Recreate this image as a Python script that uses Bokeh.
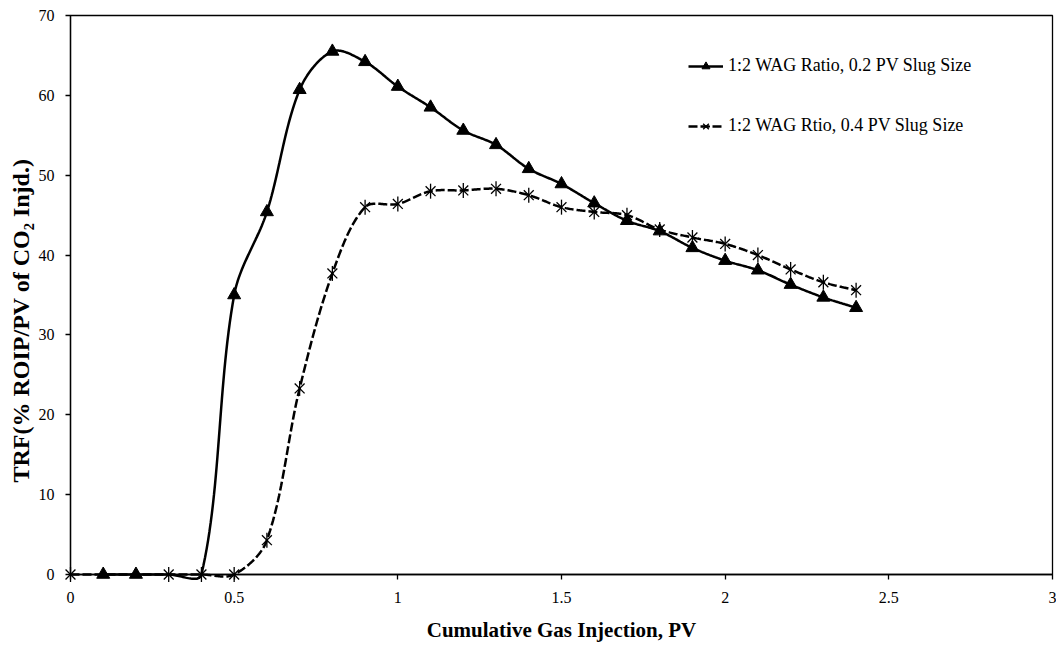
import numpy as np
from bokeh.plotting import figure
from bokeh.models import (Range1d, FixedTicker, CustomJSTickFormatter, Legend,
                          LegendItem, Title)
from bokeh.embed import file_html
from bokeh.resources import INLINE

# ---------------- data ----------------
X_TICKS = [0, 0.5, 1, 1.5, 2, 2.5, 3]
Y_TICKS = [0, 10, 20, 30, 40, 50, 60, 70]

S1_NAME = "1:2 WAG Ratio, 0.2 PV Slug Size"
S1_X = [0.1, 0.2, 0.3, 0.4, 0.5, 0.6, 0.7, 0.8, 0.9, 1.0, 1.1, 1.2,
        1.3, 1.4, 1.5, 1.6, 1.7, 1.8, 1.9, 2.0, 2.1, 2.2, 2.3, 2.4]
S1_Y = [0, 0, 0, 0, 35.0, 45.4, 60.7, 65.5, 64.2, 61.1, 58.5, 55.6,
        53.8, 50.8, 48.9, 46.5, 44.3, 43.0, 40.9, 39.3, 38.1, 36.3, 34.7, 33.4]

S2_NAME = "1:2 WAG Rtio, 0.4 PV Slug Size"
S2_X = [0, 0.3, 0.4, 0.5, 0.6, 0.7, 0.8, 0.9, 1.0, 1.1, 1.2, 1.3,
        1.4, 1.5, 1.6, 1.7, 1.8, 1.9, 2.0, 2.1, 2.2, 2.3, 2.4]
S2_Y = [0, 0, 0, 0, 4.3, 23.3, 37.7, 46.0, 46.4, 48.0, 48.1, 48.3,
        47.5, 46.0, 45.4, 45.0, 43.2, 42.2, 41.4, 40.0, 38.2, 36.6, 35.6]

X_TITLE = "Cumulative Gas Injection, PV"
Y_TITLE = "TRF(% ROIP/PV of CO\u2082 Injd.)"

X_MAX, Y_MAX = 3, 70
FRAME_W, FRAME_H = 982, 559
FONT = "Liberation Serif"


def smooth(xs, ys, n=30):
    """Excel-style smoothed line: Bezier segments whose control points are
    scaled by neighbouring segment lengths (computed in screen space)."""
    kx, ky = FRAME_W / X_MAX, FRAME_H / Y_MAX
    P = np.column_stack([np.asarray(xs, float) * kx, np.asarray(ys, float) * ky])
    m = len(P)
    t = np.linspace(0, 1, n + 1)[1:, None]
    out = [P[0]]
    for i in range(m - 1):
        p0 = P[i - 1] if i > 0 else P[i]
        p1, p2 = P[i], P[i + 1]
        p3 = P[i + 2] if i + 2 < m else P[i + 1]
        d01 = np.hypot(*(p1 - p0))
        d12 = np.hypot(*(p2 - p1))
        d23 = np.hypot(*(p3 - p2))
        f1 = d12 / (d01 + d12) if d01 + d12 > 0 else 0.5
        f2 = d12 / (d12 + d23) if d12 + d23 > 0 else 0.5
        c1 = p1 + (p2 - p0) * f1 / 3.0
        c2 = p2 - (p3 - p1) * f2 / 3.0
        seg = ((1 - t) ** 3) * p1 + 3 * ((1 - t) ** 2) * t * c1 + 3 * (1 - t) * (t ** 2) * c2 + (t ** 3) * p2
        out.extend(seg)
    a = np.array(out)
    return a[:, 0] / kx, a[:, 1] / ky


p = figure(width=1056, height=648, x_range=Range1d(0, X_MAX), y_range=Range1d(0, Y_MAX),
           output_backend="svg", toolbar_location=None,
           min_border_left=70, min_border_right=4, min_border_top=15, min_border_bottom=74)
p.background_fill_color = "white"
p.border_fill_color = "white"
p.outline_line_color = "black"
p.outline_line_width = 1.3
p.xgrid.visible = False
p.ygrid.visible = False

for ax in (p.xaxis[0], p.yaxis[0]):
    ax.axis_line_color = "black"
    ax.axis_line_width = 1.3
    ax.major_tick_line_color = "black"
    ax.major_tick_line_width = 1.3
    ax.major_tick_out = 5
    ax.major_tick_in = 0
    ax.minor_tick_line_color = None
    ax.major_label_text_font = FONT
    ax.major_label_text_font_size = "16px"
    ax.major_label_text_color = "black"
    ax.axis_label_text_font = FONT
    ax.axis_label_text_font_size = "21px"
    ax.axis_label_text_font_style = "bold"
    ax.axis_label_text_color = "black"

p.xaxis.ticker = FixedTicker(ticks=X_TICKS)
p.xaxis.formatter = CustomJSTickFormatter(code="return tick.toString();")
p.yaxis.ticker = FixedTicker(ticks=Y_TICKS)
p.xaxis.axis_label = X_TITLE
p.xaxis.major_label_standoff = 12
p.xaxis.axis_label_standoff = 12
p.yaxis.major_label_standoff = 11

# y-axis title as a side title (sits a little below the frame's middle)
p.add_layout(Title(text=Y_TITLE, align="left", offset=92, text_font=FONT,
                   text_font_size="24px", text_font_style="bold", text_color="black",
                   standoff=4), "left")

# series 1 (solid, triangles)
sx1, sy1 = smooth(S1_X, S1_Y)
l1 = p.line(sx1, sy1, line_color="black", line_width=2.5, level="overlay")
s2_pts = set(zip(S2_X, S2_Y))
keep = [(x, y) not in s2_pts for x, y in zip(S1_X, S1_Y)]
m1x = [x for x, k in zip(S1_X, keep) if k]
m1y = [y for y, k in zip(S1_Y, keep) if k]
r1 = p.scatter(m1x, m1y, marker="triangle", size=13, fill_color="black",
               line_color="black", line_width=1, level="overlay")

# series 2 (dashed, star markers)
sx2, sy2 = smooth(S2_X, S2_Y)
l2 = p.line(sx2, sy2, line_color="black", line_width=2.5, line_dash="9 3", level="overlay")
r2a = p.scatter(S2_X, S2_Y, marker="x", size=14, line_color="black", line_width=1.3, level="overlay")
r2b = p.scatter(S2_X, S2_Y, marker="dash", angle=np.pi / 2, size=15, line_color="black",
                line_width=1.3, level="overlay")

legend = Legend(items=[LegendItem(label=S1_NAME, renderers=[l1, r1]),
                       LegendItem(label=S2_NAME, renderers=[l2, r2a, r2b])],
                location=(618, 438), border_line_color=None, background_fill_alpha=0,
                padding=0, margin=0, spacing=39, glyph_width=35, glyph_height=20,
                label_height=20, label_standoff=5, label_text_font=FONT,
                label_text_font_size="18px", label_text_color="black")
p.add_layout(legend)

open("out.html", "w").write(file_html(p, INLINE))
